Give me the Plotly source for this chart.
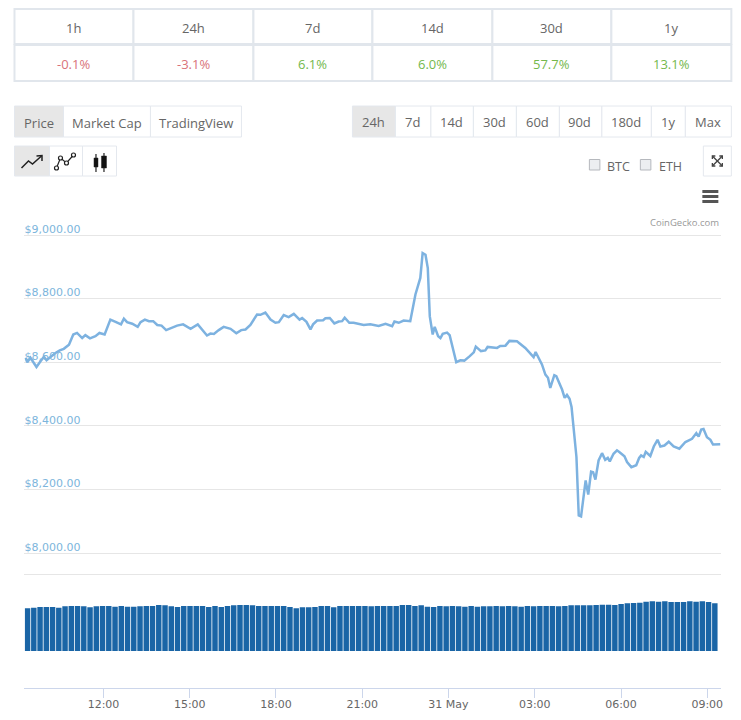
import plotly.graph_objects as go

W, H = 741, 720

# ---------- data ----------
price_hours = [9.29,9.35,9.46,9.58,9.67,9.81,9.93,10.02,10.16,10.33,10.48,10.62,10.80,10.95,11.08,11.26,11.37,11.53,11.72,11.86,12.04,12.24,12.42,12.61,12.71,12.82,13.00,13.19,13.29,13.44,13.58,13.73,13.87,14.02,14.18,14.39,14.56,14.77,15.03,15.28,15.43,15.60,15.72,15.84,16.01,16.18,16.42,16.62,16.79,16.94,17.11,17.34,17.46,17.63,17.81,17.98,18.10,18.27,18.44,18.62,18.82,18.91,19.06,19.20,19.29,19.43,19.64,19.72,19.87,20.03,20.18,20.30,20.39,20.55,20.70,20.88,21.05,21.28,21.57,21.81,22.04,22.12,22.27,22.44,22.67,22.85,23.02,23.10,23.20,23.28,23.35,23.45,23.52,23.64,23.72,23.80,23.95,24.04,24.27,24.41,24.55,24.74,24.88,24.95,25.13,25.28,25.36,25.69,25.80,25.98,26.12,26.38,26.67,26.96,27.03,27.25,27.37,27.46,27.54,27.68,27.75,27.95,28.04,28.12,28.21,28.28,28.35,28.45,28.53,28.61,28.77,28.86,28.96,29.03,29.11,29.22,29.34,29.45,29.54,29.61,29.74,29.86,29.95,30.12,30.21,30.36,30.53,30.63,30.70,30.79,30.86,31.02,31.14,31.27,31.37,31.51,31.66,31.83,32.03,32.24,32.47,32.62,32.70,32.79,32.87,32.99,33.11,33.20,33.45]
price_usd = [8614,8600,8614,8596,8585,8603,8617,8606,8617,8629,8637,8642,8655,8687,8692,8676,8685,8675,8682,8692,8687,8734,8727,8719,8737,8726,8721,8711,8726,8734,8729,8729,8717,8715,8701,8708,8715,8719,8705,8719,8703,8684,8690,8689,8701,8711,8705,8691,8701,8703,8717,8750,8749,8756,8734,8724,8726,8748,8742,8752,8734,8739,8727,8703,8719,8731,8732,8738,8739,8722,8728,8729,8740,8724,8724,8721,8717,8719,8714,8721,8713,8728,8724,8731,8729,8813,8865,8943,8938,8896,8744,8687,8711,8682,8676,8689,8693,8685,8600,8606,8605,8619,8631,8649,8635,8637,8648,8645,8651,8652,8667,8666,8645,8616,8632,8593,8561,8551,8519,8559,8556,8514,8488,8497,8485,8459,8385,8302,8118,8115,8228,8184,8256,8254,8231,8291,8314,8293,8299,8288,8312,8323,8317,8304,8286,8270,8276,8299,8307,8302,8318,8305,8335,8356,8335,8338,8350,8335,8328,8349,8359,8377,8366,8388,8390,8364,8356,8341,8342]
volume_bn = [25.6,26.0,26.4,26.4,26.4,26.0,26.8,27.0,27.0,26.8,26.2,26.8,27.0,27.0,26.6,27.0,26.6,26.6,26.8,27.0,27.0,27.6,27.4,26.8,26.4,27.0,27.0,27.0,27.0,26.4,27.0,26.4,27.0,27.4,27.6,27.6,27.4,27.0,27.0,27.0,27.0,27.0,26.4,25.6,26.2,26.2,26.4,27.0,27.0,26.2,27.0,27.0,27.0,27.0,27.0,26.8,27.0,27.0,27.0,27.0,27.6,27.6,27.0,27.4,26.6,26.4,27.0,26.8,27.0,26.8,26.6,27.0,26.6,26.8,26.8,27.0,26.8,27.0,26.8,26.6,27.0,26.8,27.0,27.0,27.0,26.8,27.0,27.4,27.4,27.4,27.4,27.6,27.8,27.8,27.6,28.2,28.6,28.8,29.0,29.6,29.8,29.6,29.8,29.4,29.4,29.4,29.8,29.6,29.8,29.4,28.6]
volume_start_hour = 9.36
volume_step_hour = 0.2173

price_ticks = [8000, 8200, 8400, 8600, 8800, 9000]
price_labels = ["$8,000.00", "$8,200.00", "$8,400.00", "$8,600.00", "$8,800.00", "$9,000.00"]
time_ticks = [12, 15, 18, 21, 24, 27, 30, 33]
time_labels = ["12:00", "15:00", "18:00", "21:00", "31 May", "03:00", "06:00", "09:00"]

periods = ["1h", "24h", "7d", "14d", "30d", "1y"]
changes = ["-0.1%", "-3.1%", "6.1%", "6.0%", "57.7%", "13.1%"]
tabs = ["Price", "Market Cap", "TradingView"]
ranges = ["24h", "7d", "14d", "30d", "60d", "90d", "180d", "1y", "Max"]
compare = ["BTC", "ETH"]

# ---------- page chrome helpers (pixel positions on the page) ----------
px = lambda x: (x * 1.0025 + 0.5) / W
py = lambda y: 1 - y / H
shapes, notes = [], []

def box(x0, y0, x1, y1, fill="white", line="#e4e8ee", lw=1):
    shapes.append(dict(type="rect", xref="paper", yref="paper", x0=px(x0), x1=px(x1),
                       y0=py(y0), y1=py(y1), fillcolor=fill, line=dict(color=line, width=lw), layer="below"))

def text(x, y, s, color="#666666", size=13, anchor="center", family="Open Sans"):
    notes.append(dict(xref="paper", yref="paper", x=px(x), y=py(y), text=s, showarrow=False,
                      xanchor=anchor, yanchor="middle", font=dict(family=family, size=size, color=color)))

def poly(points, color="#222222", lw=1.5, close=False, fill=None):
    d = "M" + " L".join(f"{px(a):.5f},{py(b):.5f}" for a, b in points) + (" Z" if close else "")
    shapes.append(dict(type="path", xref="paper", yref="paper", path=d,
                       line=dict(color=color, width=lw), fillcolor=fill, layer="above"))

def dot(x, y, r=2.0):
    shapes.append(dict(type="circle", xref="paper", yref="paper", x0=px(x-r), x1=px(x+r),
                       y0=py(y+r), y1=py(y-r), fillcolor="white", line=dict(color="#222222", width=1.2), layer="above"))

# stats table
col_edges = [14, 133, 253, 372, 492, 611, 731]
for i in range(6):
    a, b = col_edges[i], col_edges[i+1]
    box(a, 9, b, 44, line="#e1e6ec", lw=2)
    box(a, 45, b, 81, line="#e1e6ec", lw=2)
    text((a+b)/2, 28, periods[i], size=13)
    text((a+b)/2, 64, changes[i], size=13, color="#d9737a" if changes[i].startswith("-") else "#74b84c")

# tabs
tab_edges = [14, 63, 150, 241]
for i, t in enumerate(tabs):
    box(tab_edges[i], 106, tab_edges[i+1], 137, fill="#e7e7e7" if i == 0 else "white")
    text((tab_edges[i]+tab_edges[i+1])/2, 123, t)

# range buttons
range_edges = [352, 395, 430.5, 473, 516, 559, 601.5, 651, 685, 731]
for i, t in enumerate(ranges):
    box(range_edges[i], 106, range_edges[i+1], 137, fill="#e7e7e7" if i == 0 else "white")
    text((range_edges[i]+range_edges[i+1])/2 - 0.7, 122, t)

# chart type icons
icon_edges = [14, 49, 82, 116]
for i in range(3):
    box(icon_edges[i], 146, icon_edges[i+1], 176, fill="#e7e7e7" if i == 0 else "white")
poly([(21, 168), (28, 161), (32, 164), (41, 156)])
poly([(36, 156), (41.5, 155.5), (41.5, 161)])
poly([(56, 168), (60, 158), (66, 163), (73, 155)], lw=1.2)
for a, b in [(56, 168), (60, 158), (66, 163), (73, 155)]:
    dot(a, b)
poly([(95.5, 154), (95.5, 172)], lw=1.2)
poly([(103.5, 153), (103.5, 172)], lw=1.2)
poly([(93.5, 158), (97.5, 158), (97.5, 167), (93.5, 167)], close=True, fill="#111111", lw=0.5)
poly([(101, 156), (106, 156), (106, 168), (101, 168)], close=True, fill="#111111", lw=0.5)

# comparison checkboxes
for bx, tx, label in zip([589, 640], [605, 657], compare):
    shapes.append(dict(type="rect", xref="paper", yref="paper", x0=px(bx), x1=px(bx+10.5),
                       y0=py(170), y1=py(159.5), fillcolor="#eceef1",
                       line=dict(color="#b5b8bd", width=1), layer="below"))
    text(tx, 166, label, anchor="left", size=12.5)

# expand button
box(703, 146, 731, 176)
for pts in ([(712, 156), (722, 166)], [(722, 156), (712, 166)],
            [(712, 159), (712, 156), (715, 156)], [(719, 156), (722, 156), (722, 159)],
            [(712, 163), (712, 166), (715, 166)], [(719, 166), (722, 166), (722, 163)]):
    poly(pts, color="#444444", lw=1.3)

# hamburger menu
for y in (191.5, 196.5, 201.5):
    poly([(702, y), (718, y)], color="#555555", lw=3)

text(721, 222, "CoinGecko.com", color="#999999", size=9.5, anchor="right")

# ---------- chart ----------
fig = go.Figure()
fig.add_trace(go.Bar(x0=volume_start_hour, dx=volume_step_hour, y=volume_bn, xaxis="x", yaxis="y2",
                     marker=dict(color="#1a65a6", line=dict(width=0)), name="Volume", width=0.19))
fig.add_trace(go.Scatter(x=price_hours, y=price_usd, mode="lines", xaxis="x", yaxis="y",
                         line=dict(color="#7db2e0", width=2.5), name="Price"))

fig.update_layout(
    width=W, height=H, margin=dict(l=0, r=0, t=0, b=0),
    paper_bgcolor="white", plot_bgcolor="white", showlegend=False,
    shapes=shapes, annotations=notes, bargap=0.1,
    xaxis=dict(domain=[px(24), px(721)], range=[9.253, 33.49], anchor="y2",
               tickvals=time_ticks, ticktext=time_labels, ticks="outside", ticklen=9, tickcolor="#ccd6eb",
               ticklabelstandoff=-3,
               showline=True, linecolor="#ccd6eb", linewidth=1, showgrid=False, zeroline=False,
               tickfont=dict(family="DejaVu Sans", size=11, color="#666666")),
    # the price pane runs a little past $8,000 and $9,000 so both gridlines and labels are kept
    yaxis=dict(domain=[py(556), py(215)], range=[7990.6, 9062.9], tickvals=price_ticks, ticktext=price_labels,
               ticklabelposition="inside", ticklabelshift=-6, ticklabelstandoff=-3,
               gridcolor="#e6e6e6", zeroline=False,
               showline=False, ticks="", tickfont=dict(family="DejaVu Sans", size=11, color="#7cb5dc")),
    yaxis2=dict(domain=[py(688), py(571)], range=[-22.2, 48.0], tickvals=[46.2], ticktext=[""],
                gridcolor="#e6e6e6", zeroline=False, showline=False, ticks=""),
)

fig.write_html("out.html", config=dict(displayModeBar=False),
               post_script="document.body.style.margin='0';document.documentElement.style.overflow='hidden';")
